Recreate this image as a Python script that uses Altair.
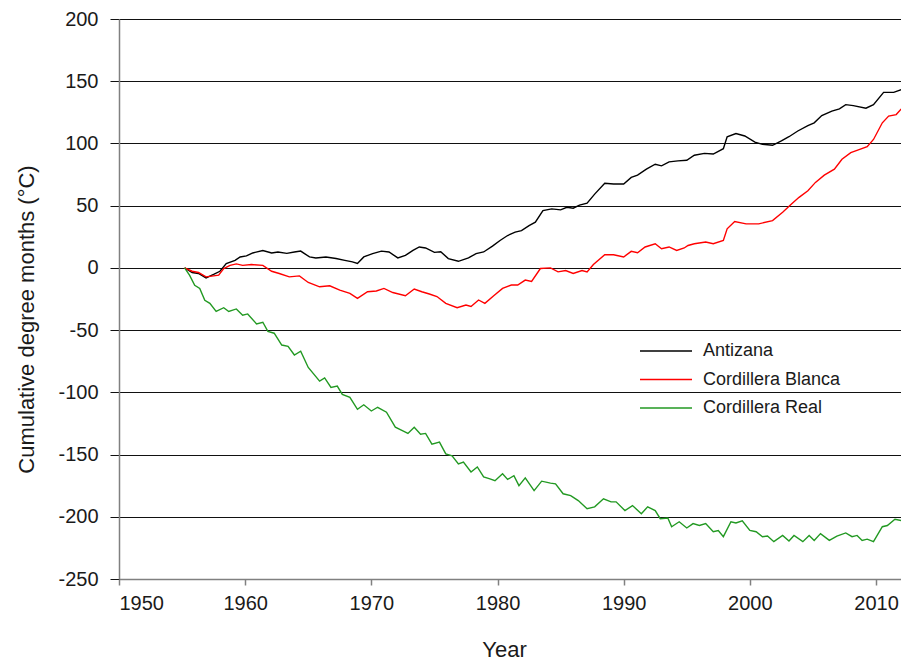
import altair as alt
import pandas as pd

# ---- data ----
antizana_year = [1955.2, 1955.8, 1956.3, 1956.9, 1957.5, 1958.0, 1958.5, 1959.2, 1959.6, 1960.1,
                 1960.6, 1961.4, 1962.1, 1962.6, 1963.3, 1963.9, 1964.4, 1965.1, 1965.6, 1966.4,
                 1967.2, 1967.9, 1968.5, 1968.9, 1969.4, 1970.1, 1970.8, 1971.4, 1972.1, 1972.7,
                 1973.3, 1973.8, 1974.3, 1975.0, 1975.5, 1976.1, 1976.9, 1977.7, 1978.3, 1978.9,
                 1979.6, 1980.2, 1980.8, 1981.4, 1981.9, 1982.5, 1983.0, 1983.6, 1984.3, 1985.0,
                 1985.5, 1986.0, 1986.5, 1987.1, 1987.7, 1988.5, 1989.2, 1990.0, 1990.6, 1991.1,
                 1991.8, 1992.5, 1993.0, 1993.6, 1994.3, 1995.0, 1995.6, 1996.4, 1997.1, 1997.9,
                 1998.2, 1998.9, 1999.6, 2000.4, 2001.0, 2001.8, 2002.5, 2003.1, 2003.8, 2004.6,
                 2005.1, 2005.7, 2006.5, 2007.1, 2007.6, 2008.2, 2009.2, 2009.8, 2010.6, 2011.4,
                 2012.0]
antizana_val = [0, -3.7, -4.5, -8, -5.3, -2.7, 3.5, 6, 8.8, 9.6,
                12, 14, 12, 12.8, 11.7, 12.8, 13.5, 8.8, 8, 8.8,
                7.5, 6, 4.8, 3.5, 8.8, 11.5, 13.5, 12.8, 8, 10,
                14, 16.8, 16, 12.5, 13, 7.5, 5.3, 8, 11.5, 12.8,
                17.5, 22, 26, 28.7, 30, 34, 36.7, 46, 47.4, 46.6,
                48.7, 48, 50.5, 52, 59.3, 68, 67.4, 67.4, 72.7, 74.5,
                79.3, 83.3, 82, 85.2, 86, 86.5, 90.5, 92, 91.5, 95.8,
                105.4, 108, 106, 101, 99.3, 98.5, 102, 105.4, 110, 114.4,
                116.6, 122.4, 126, 127.8, 131.2, 130.4, 128.3, 131.2, 141, 141,
                143.2]

blanca_year = [1955.2, 1955.8, 1956.3, 1956.9, 1957.5, 1957.9, 1958.3, 1958.8, 1959.3, 1959.8,
               1960.5, 1961.4, 1962.1, 1962.7, 1963.5, 1964.3, 1965.0, 1965.9, 1966.7, 1967.5,
               1968.3, 1968.9, 1969.7, 1970.4, 1971.0, 1971.7, 1972.7, 1973.4, 1974.0, 1974.6,
               1975.2, 1975.9, 1976.8, 1977.5, 1977.9, 1978.5, 1979.0, 1979.7, 1980.4, 1981.1,
               1981.6, 1982.2, 1982.7, 1983.4, 1984.2, 1984.8, 1985.4, 1986.0, 1986.7, 1987.1,
               1987.6, 1988.5, 1989.2, 1990.0, 1990.6, 1991.1, 1991.7, 1992.5, 1993.0, 1993.6,
               1994.2, 1994.8, 1995.1, 1995.6, 1996.5, 1997.1, 1997.9, 1998.2, 1998.8, 1999.7,
               2000.7, 2001.8, 2002.6, 2003.3, 2003.9, 2004.6, 2005.2, 2005.9, 2006.7, 2007.3,
               2008.0, 2008.6, 2009.3, 2009.8, 2010.5, 2011.0, 2011.6, 2012.0]
blanca_val = [0, -2.7, -3.7, -7.2, -6.4, -5.8, -0.5, 2, 3.2, 2,
              2.7, 2, -2.7, -4.5, -7.2, -6.4, -11.7, -15.2, -14.4, -17.8,
              -20.5, -24.5, -19.2, -18.6, -16.5, -19.8, -22.4, -17, -19.2, -21,
              -23, -28.5, -32, -29.8, -31, -25.8, -28.5, -22.4, -16.5, -13.8,
              -13.8, -9.8, -10.9, -0.5, 0, -3.2, -2.1, -4.5, -2.1, -3.2,
              2.7, 10.6, 10.6, 8.8, 13.3, 12.2, 16.8, 19.4, 15.4, 16.8,
              14, 16, 18, 19.4, 20.8, 19.4, 22, 31.4, 37.3, 35.4,
              35.4, 38, 44.7, 51.3, 56.7, 62, 68.7, 74.5, 79.3, 87.3,
              92.6, 94.8, 97.4, 103.2, 116.6, 122, 123.2, 127.8]

real_year = [1955.2, 1955.6, 1956.0, 1956.4, 1956.8, 1957.2, 1957.7, 1958.3, 1958.7, 1959.3,
             1959.8, 1960.2, 1960.9, 1961.4, 1961.8, 1962.3, 1962.9, 1963.4, 1963.9, 1964.4,
             1965.0, 1965.9, 1966.3, 1966.8, 1967.3, 1967.7, 1968.3, 1968.9, 1969.4, 1970.0,
             1970.5, 1971.2, 1971.9, 1972.5, 1972.9, 1973.4, 1973.9, 1974.3, 1974.8, 1975.4,
             1975.9, 1976.4, 1976.9, 1977.3, 1977.9, 1978.4, 1978.9, 1979.4, 1979.8, 1980.4,
             1980.8, 1981.3, 1981.7, 1982.2, 1982.9, 1983.5, 1984.2, 1984.6, 1985.2, 1985.8,
             1986.4, 1987.1, 1987.7, 1988.4, 1989.0, 1989.4, 1990.1, 1990.7, 1991.4, 1991.9,
             1992.5, 1992.9, 1993.5, 1993.8, 1994.4, 1995.0, 1995.5, 1996.0, 1996.5, 1997.1,
             1997.5, 1997.9, 1998.5, 1998.9, 1999.4, 2000.0, 2000.5, 2001.0, 2001.4, 2001.9,
             2002.6, 2003.1, 2003.5, 2004.2, 2004.7, 2005.1, 2005.6, 2006.3, 2006.9, 2007.6,
             2008.1, 2008.5, 2008.9, 2009.3, 2009.8, 2010.5, 2010.9, 2011.5, 2012.0]
real_val = [0, -6, -14, -16.5, -26, -28.5, -35, -32, -35, -33,
            -38, -37, -45, -43.7, -51, -52.5, -62, -63, -70, -67,
            -80, -91, -88.4, -96, -95, -101.6, -104, -113.6, -110, -115,
            -112, -116, -128, -131, -133, -128, -133.6, -133, -141.6, -140,
            -149.5, -151, -157.6, -156, -164, -160, -168, -169.5, -171, -165.5,
            -170, -167, -175, -168.7, -179, -171.4, -173, -173.5, -181.5, -183,
            -187, -193.5, -192, -185.5, -188, -188, -195, -191, -197.5, -192,
            -195, -201.5, -201, -208, -204, -209, -205.5, -207, -205.5, -212,
            -211, -216, -204, -205, -203.3, -211, -212, -216, -215.5, -220,
            -215, -219.5, -215, -220, -215, -219, -213.5, -219, -215.6, -213,
            -216, -215, -219, -218, -220, -208, -207, -202, -203]

series_names = ["Antizana", "Cordillera Blanca", "Cordillera Real"]
series_colors = ["#000000", "#ff0000", "#229922"]
x_ticks = [1950, 1960, 1970, 1980, 1990, 2000, 2010]
y_ticks = [-250, -200, -150, -100, -50, 0, 50, 100, 150, 200]

frames = []
for name, yr, vals in [(series_names[0], antizana_year, antizana_val),
                       (series_names[1], blanca_year, blanca_val),
                       (series_names[2], real_year, real_val)]:
    frames.append(pd.DataFrame({"year": yr, "value": vals, "series": name, "order": range(len(yr))}))
df = pd.concat(frames, ignore_index=True)

FONT = "Liberation Sans"

chart = alt.Chart(df).mark_line(strokeWidth=1.4, clip=True).encode(
    x=alt.X("year:Q",
            scale=alt.Scale(domain=[1950, 2011.98], nice=False, zero=False),
            axis=alt.Axis(values=x_ticks, format="d", title="Year", grid=False,
                          labelFontSize=20, labelColor="#1a1a1a", labelPadding=8,
                          tickSize=6, tickColor="#808080", tickWidth=1.5,
                          domainColor="#808080", domainWidth=1.5,
                          titleFontSize=22, titleFontWeight="normal", titleColor="#1a1a1a",
                          titleX=385, titleY=77, titleBaseline="alphabetic")),
    y=alt.Y("value:Q",
            scale=alt.Scale(domain=[-250, 200], nice=False, zero=False),
            axis=alt.Axis(values=y_ticks, title="Cumulative degree months (°C)",
                          labelExpr="replace(datum.label, '\u2212', '-')",
                          grid=True, gridColor="#111111", gridWidth=1,
                          labelFontSize=20, labelColor="#1a1a1a", labelPadding=12,
                          tickSize=9, tickColor="#111111", tickWidth=1,
                          domainColor="#808080", domainWidth=1.5,
                          titleFontSize=22, titleFontWeight="normal", titleColor="#1a1a1a",
                          titleAngle=270, titleX=-86, titleY=300, titleBaseline="alphabetic")),
    color=alt.Color("series:N",
                    scale=alt.Scale(domain=series_names, range=series_colors),
                    legend=alt.Legend(title=None, orient="none", legendX=533, legendY=318,
                                      symbolType="M-2,0L2,0", symbolSize=676, symbolStrokeWidth=1.5,
                                      labelFontSize=18, labelColor="#1a1a1a", labelOffset=23,
                                      rowPadding=5.5, padding=0)),
    order="order:Q",
).properties(
    width=782, height=560,
    autosize=alt.AutoSizeParams(type="none"),
    padding={"left": 111, "top": 11, "right": 0, "bottom": 82},
).configure(font=FONT).configure_view(strokeWidth=0)

chart.save("out.html", embed_options={"renderer": "svg", "actions": False})
